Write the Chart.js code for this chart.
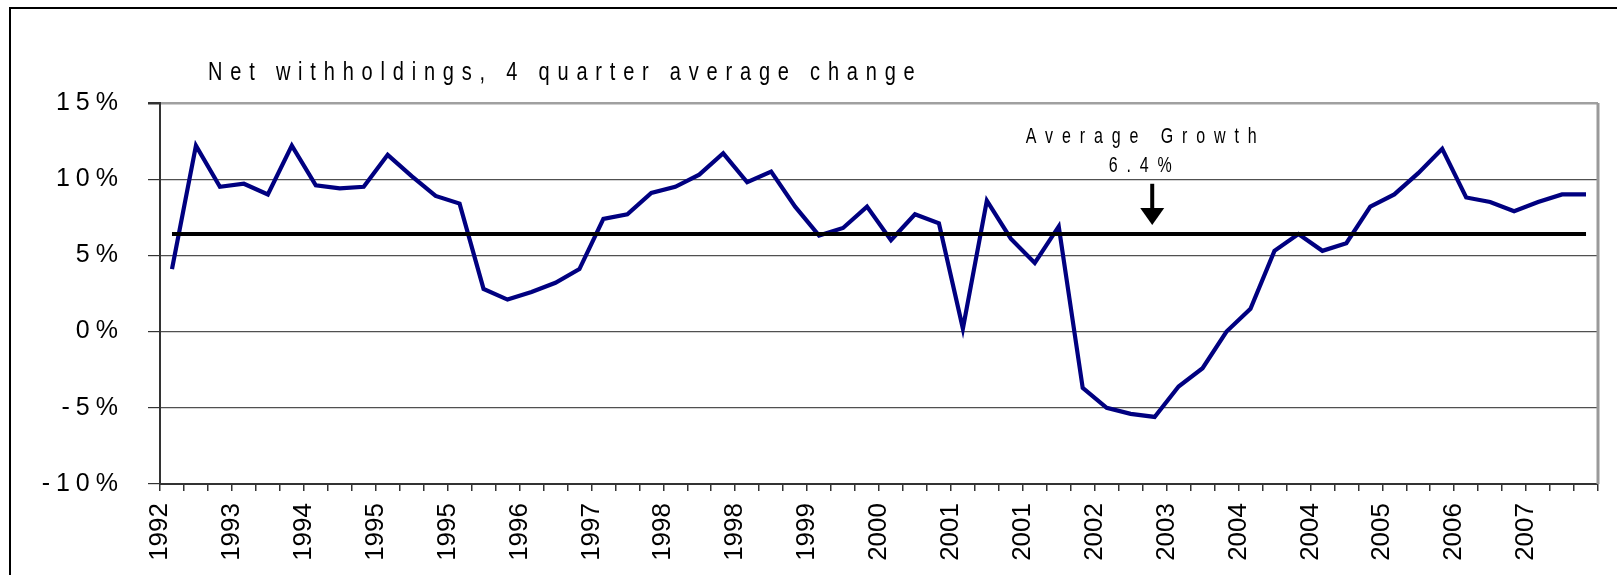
<!DOCTYPE html>
<html>
<head>
<meta charset="utf-8">
<script src="https://cdn.jsdelivr.net/npm/chart.js@4.4.1/dist/chart.umd.min.js"></script>
<style>
  html, body { margin: 0; padding: 0; background: #fff; }
  #wrap { width: 1617px; height: 575px; }
</style>
</head>
<body>
<div id="wrap"><canvas id="withholdings-chart"></canvas></div>
<script>
// quarterly data, one tick label every 3 quarters
const yearLabels = ['1992', '1993', '1994', '1995', '1995', '1996', '1997', '1998', '1998', '1999',
                    '2000', '2001', '2001', '2002', '2003', '2004', '2004', '2005', '2006', '2007'];
const withholdingGrowth = [
  4.1, 12.2, 9.5, 9.7, 9.0, 12.2, 9.6, 9.4, 9.5, 11.6,
  10.2, 8.9, 8.4, 2.8, 2.1, 2.6, 3.2, 4.1, 7.4, 7.7,
  9.1, 9.5, 10.3, 11.7, 9.8, 10.5, 8.2, 6.3, 6.8, 8.2,
  6.0, 7.7, 7.1, 0.2, 8.6, 6.1, 4.5, 6.9, -3.7, -5.0,
  -5.4, -5.6, -3.6, -2.4, 0.0, 1.5, 5.3, 6.4, 5.3, 5.8,
  8.2, 9.0, 10.4, 12.0, 8.8, 8.5, 7.9, 8.5, 9.0, 9.0
];
const averageGrowth = 6.4;
const yTicks = [-10, -5, 0, 5, 10, 15];

const plainFont = "'Liberation Sans', Arial, sans-serif";

// Chart.js has no letter spacing option, so wrap the label drawing of a scale
function spaceLabels(scale, spacing) {
  if (scale._spaced) return;
  const orig = scale.drawLabels.bind(scale);
  scale.drawLabels = (area) => {
    scale.ctx.save();
    scale.ctx.letterSpacing = spacing;
    orig(area);
    scale.ctx.restore();
  };
  scale._spaced = true;
}

// the original text is tall and narrow, so stretch it a bit vertically
function tallText(ctx, text, x, y, size, spacing, align) {
  ctx.save();
  ctx.translate(x, y);
  ctx.scale(1, 1.33);
  ctx.font = size + 'px ' + plainFont;
  ctx.letterSpacing = spacing + 'px';
  ctx.textAlign = align;
  ctx.textBaseline = 'middle';
  ctx.fillStyle = '#000';
  ctx.fillText(text, align === 'center' ? spacing / 2 : 0, 0);
  ctx.restore();
}

const decorations = {
  id: 'decorations',
  afterUpdate(chart) {
    spaceLabels(chart.scales.y, '6px');
  },
  afterDraw(chart) {
    const { ctx, chartArea: a, scales: { x, y } } = chart;
    ctx.save();

    // outer frame (only left and top are in view)
    ctx.strokeStyle = '#000';
    ctx.lineWidth = 2;
    ctx.beginPath();
    ctx.moveTo(10, chart.height);
    ctx.lineTo(10, 8);
    ctx.lineTo(chart.width, 8);
    ctx.stroke();

    // right edge of plot
    ctx.strokeStyle = '#9a9a9a';
    ctx.lineWidth = 3;
    ctx.beginPath();
    ctx.moveTo(a.right, a.top);
    ctx.lineTo(a.right, a.bottom);
    ctx.stroke();

    tallText(ctx, 'Net withholdings, 4 quarter average change', a.left + 48, 73, 20, 7.8, 'left');

    // average growth note and arrow
    const ax = x.getPixelForValue(41.4);
    tallText(ctx, 'Average Growth', ax - 11, 137, 16, 8.9, 'center');
    tallText(ctx, averageGrowth.toFixed(1) + '%', ax - 12, 166, 16, 8.9, 'center');

    const shaftTop = y.getPixelForValue(9.7);
    const tip = y.getPixelForValue(7.0);
    ctx.strokeStyle = '#000';
    ctx.fillStyle = '#000';
    ctx.lineWidth = 4;
    ctx.beginPath();
    ctx.moveTo(ax, shaftTop);
    ctx.lineTo(ax, tip - 14);
    ctx.stroke();
    ctx.beginPath();
    ctx.moveTo(ax - 12, tip - 17);
    ctx.lineTo(ax + 12, tip - 17);
    ctx.lineTo(ax, tip);
    ctx.closePath();
    ctx.fill();

    ctx.restore();
  }
};

document.addEventListener('DOMContentLoaded', () => {
  const ctx = document.getElementById('withholdings-chart').getContext('2d');
  const n = withholdingGrowth.length;

  new Chart(ctx, {
    type: 'line',
    data: {
      datasets: [{
        label: 'Average growth',
        data: [{ x: 0.5, y: averageGrowth }, { x: n - 0.5, y: averageGrowth }],
        borderColor: '#000',
        borderWidth: 4,
        pointRadius: 0,
        order: 0
      },
      {
        label: 'Net withholdings',
        data: withholdingGrowth.map((v, i) => ({ x: i + 0.5, y: v })),
        borderColor: '#000080',
        borderWidth: 4.2,
        pointRadius: 0,
        tension: 0,
        order: 1
      }]
    },
    options: {
      responsive: true,
      maintainAspectRatio: false,
      animation: false,
      layout: { padding: { top: 103, right: 19, left: 0, bottom: 0 } },
      plugins: {
        legend: { display: false },
        tooltip: { enabled: false }
      },
      scales: {
        x: {
          type: 'linear',
          min: 0,
          max: n,
          afterBuildTicks: (s) => {
            s.ticks = [];
            for (let i = 0; i <= n; i++) s.ticks.push({ value: i });
          },
          afterFit: (s) => {
            s.height = 91;
            s.paddingLeft = 0;
            s.paddingRight = 0;
          },
          grid: { drawOnChartArea: false, drawTicks: true, tickLength: 7, color: '#333', lineWidth: 1.5 },
          border: { color: '#333', width: 2 },
          ticks: {
            autoSkip: false,
            maxRotation: 90,
            minRotation: 90,
            padding: 12,
            color: '#000',
            font: { family: plainFont, size: 26 },
            callback: (v) => (v % 3 === 0 ? (yearLabels[v / 3] || '') : '')
          }
        },
        y: {
          min: -10,
          max: 15,
          afterBuildTicks: (s) => { s.ticks = yTicks.map((v) => ({ value: v })); },
          afterFit: (s) => { s.width = 160; },
          grid: {
            color: (c) => (c.tick && c.tick.value === 15 ? '#a0a0a0' : '#505050'),
            lineWidth: (c) => (c.tick && c.tick.value === 15 ? 2.5 : 1.2),
            tickColor: '#333',
            tickLength: 12
          },
          border: { color: '#333', width: 2 },
          ticks: {
            padding: 24,
            color: '#000',
            font: { family: plainFont, size: 25 },
            callback: (v) => v + '%'
          }
        }
      }
    },
    plugins: [decorations]
  });
});
</script>
</body>
</html>
